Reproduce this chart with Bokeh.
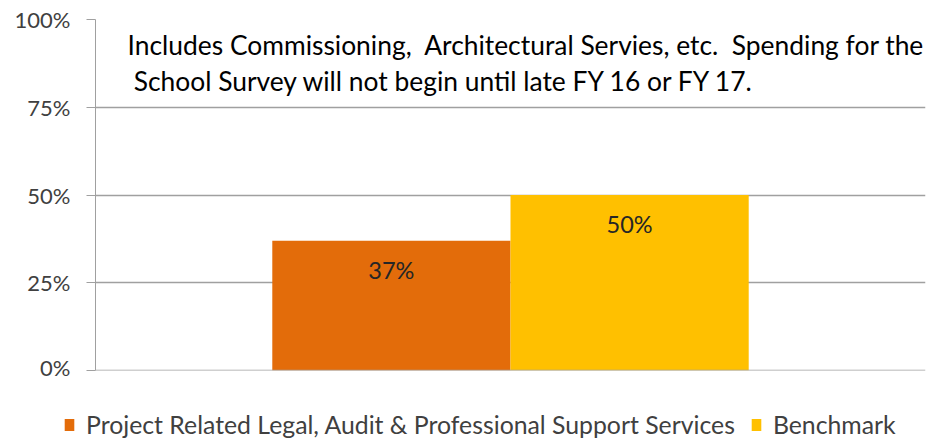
from bokeh.plotting import figure
from bokeh.layouts import column
from bokeh.models import ColumnDataSource, NumeralTickFormatter, FixedTicker, Label, Legend, LegendItem, Range1d, Span
from bokeh.core.properties import value
from bokeh.embed import file_html
from bokeh.resources import INLINE

# data
series = ["Project Related Legal, Audit & Professional Support Services", "Benchmark"]
values = [0.37, 0.50]
labels = ["37%", "50%"]
colors = ["#E36C0A", "#FFC000"]
y_ticks = [0, 0.25, 0.5, 0.75, 1.0]
note_lines = ["Includes Commissioning,\u00a0 Architectural Servies, etc.\u00a0 Spending for the",
              "School Survey will not begin until late FY 16 or FY 17."]

FONT = "Lato"
bar_w = 0.287
centers = [0.5 - bar_w / 2, 0.5 + bar_w / 2]

src = ColumnDataSource(dict(x=centers, top=values, color=colors, label=labels, name=series))

p = figure(width=945, height=380, output_backend="svg", toolbar_location=None,
           x_range=Range1d(0, 1), y_range=Range1d(0, 1),
           min_border_left=95, min_border_right=20, min_border_top=19, min_border_bottom=10)
p.outline_line_color = None
p.background_fill_color = "white"
p.border_fill_color = "white"

r = p.vbar(x="x", top="top", width=bar_w, color="color", source=src, line_color=None)

p.text(x="x", y="top", text="label", source=src, text_align="center", text_baseline="middle",
       y_offset=29, text_font_size=value("23.5px"), text_color="#262626", text_font=value(FONT))

p.xaxis.visible = False
p.xgrid.visible = False
yax = p.yaxis[0]
yax.ticker = FixedTicker(ticks=y_ticks)
yax.formatter = NumeralTickFormatter(format="0%")
yax.minor_tick_line_color = None
yax.major_tick_out = 9
yax.major_tick_in = 0
yax.axis_line_color = "#A0A0A0"
yax.major_tick_line_color = "#A0A0A0"
yax.major_label_text_font = FONT
yax.major_label_text_font_size = "22px"
yax.major_label_text_color = "#404040"
yax.major_label_standoff = 16
p.ygrid.ticker = FixedTicker(ticks=y_ticks)
p.ygrid.grid_line_color = "#A0A0A0"
p.ygrid.grid_line_width = 1.5
p.add_layout(Span(location=0, dimension="width", line_color="#A0A0A0", line_width=1.5))

p.add_layout(Label(x=0.0386, y=0.926, text=note_lines[0], text_font=FONT, text_font_size="26.4px",
                   text_color="black", text_baseline="middle"))
p.add_layout(Label(x=0.046, y=0.826, text=note_lines[1], text_font=FONT, text_font_size="26.4px",
                   text_color="black", text_baseline="middle"))

# legend strip below the chart (its bars lie outside the strip's view; only the legend shows)
lg = figure(width=945, height=60, output_backend="svg", toolbar_location=None,
            x_range=Range1d(50, 51), y_range=Range1d(50, 51),
            min_border_left=0, min_border_right=0, min_border_top=0, min_border_bottom=0)
lg.outline_line_color = None
lg.background_fill_color = "white"
lg.border_fill_color = "white"
lg.axis.visible = False
lg.grid.visible = False
lr = lg.vbar(x="x", top="top", width=bar_w, color="color", source=src, line_color=None)
items = [LegendItem(label=series[i], renderers=[lr], index=i) for i in range(2)]
legend = Legend(items=items, orientation="horizontal", location=(63, 1),
                label_text_font=FONT, label_text_font_size="24.8px", label_text_color="#404040",
                glyph_width=12, glyph_height=15, spacing=15, label_standoff=11,
                border_line_color=None, background_fill_alpha=0, padding=0, margin=0)
lg.add_layout(legend, "center")

layout = column(p, column(lg, spacing=0), spacing=0)
open("out.html", "w").write(file_html(layout, INLINE))
